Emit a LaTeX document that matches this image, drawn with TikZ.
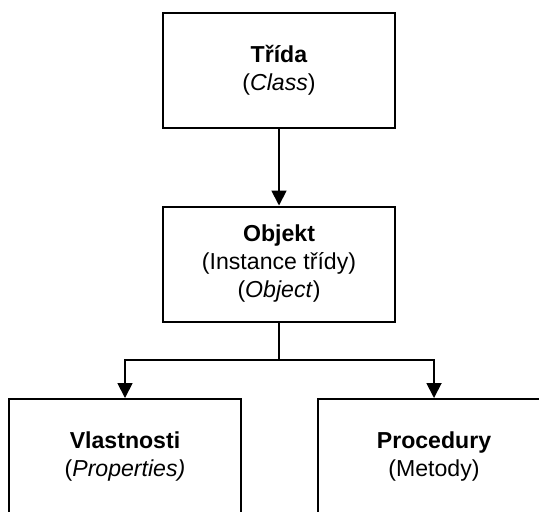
\documentclass[tikz,border=0pt]{standalone}
\usepackage{fontspec}
\setmainfont{Liberation Sans}
\usetikzlibrary{arrows.meta}

\begin{document}
\begin{tikzpicture}[x=0.5pt,y=-0.5pt]
    
    \tikzset{block/.style = {shape=rectangle,draw,line width=1pt,minimum width=116pt,minimum height=57.5pt,align=center,font=\fontsize{11.55}{14}\selectfont}}
    \tikzset{edge/.style = {line width=0.9pt,-{Triangle[width=7.5pt,length=7.5pt]}}}
    \clip (0,0) rectangle (539,511);
    \node[block] (T) at (279,70)  {\textbf{Třída}\\(\textit{Class})};
    \node[block] (O) at (279,264)  {\textbf{Objekt}\\(Instance třídy)\\(\textit{Object})};
    \node[block] (V) at (125,456.5)  {\textbf{Vlastnosti}\\(\textit{Properties)}};
    \node[block] (P) at (434,456.5)  {\textbf{Procedury}\\(Metody)};
    \coordinate (S) at (279,360);
    %edges
    \draw[edge] (T) to (O);
    \draw[line width=0.9pt] (O) to (S);
    \draw[edge] (S) -| (V);
    \draw[edge] (S) -| (P);
    \end{tikzpicture}
\end{document}
